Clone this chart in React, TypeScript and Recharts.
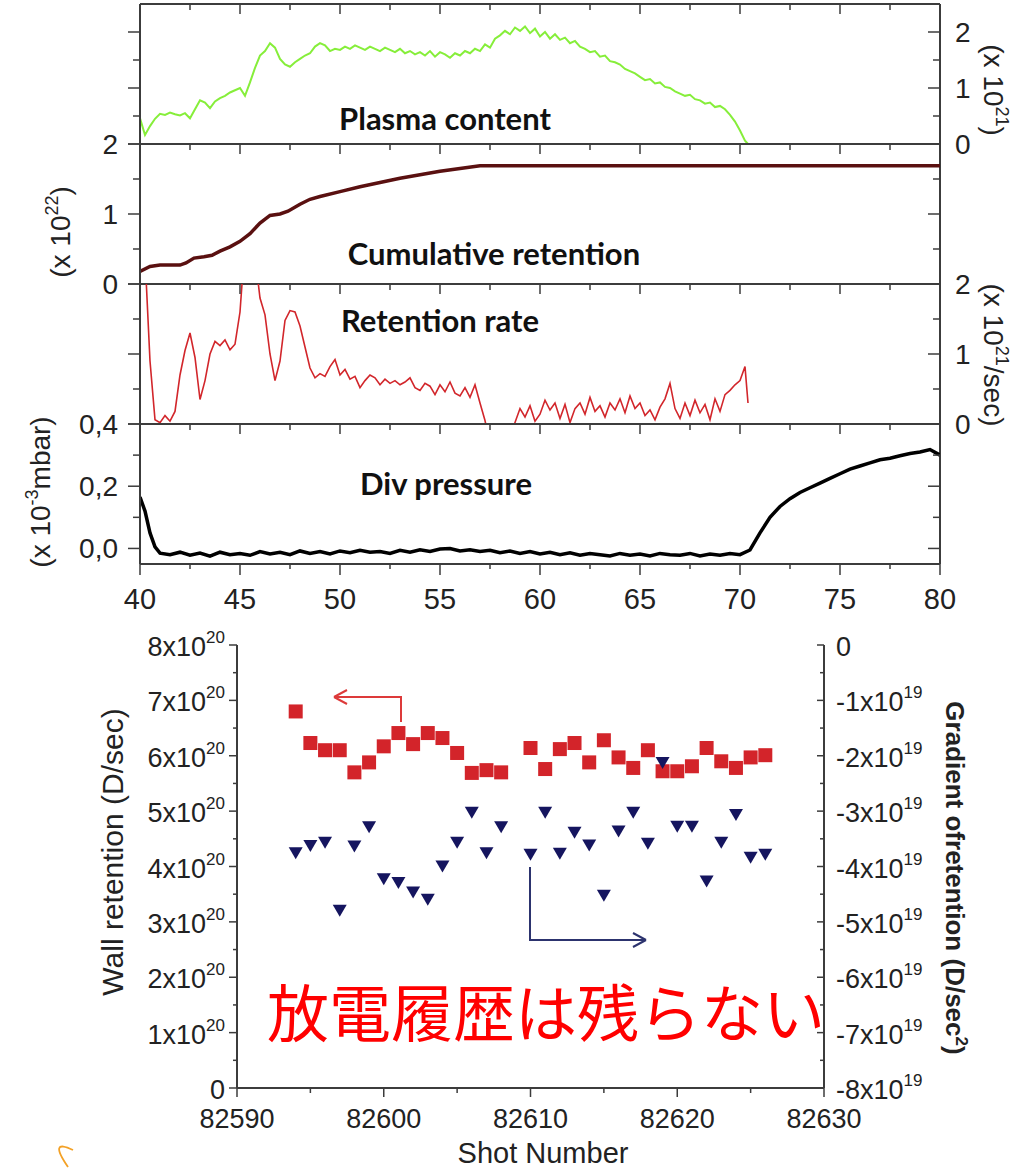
import React from 'react';
import { LineChart, Line, XAxis, YAxis, ReferenceLine, ScatterChart, Scatter } from 'recharts';

// ---- top figure: time traces (s) ----
const timeTicks = [40, 42.5, 45, 47.5, 50, 52.5, 55, 57.5, 60, 62.5, 65, 67.5, 70, 72.5, 75, 77.5, 80];

const plasmaTrace: [number, number][] = [
  [40, 0.46], [40.25, 0.16], [40.5, 0.32], [40.75, 0.45], [41, 0.54], [41.25, 0.52], [41.5, 0.56], [41.75, 0.53],
  [42, 0.51], [42.25, 0.55], [42.5, 0.46], [42.75, 0.62], [43, 0.78], [43.25, 0.74], [43.5, 0.64], [43.75, 0.76],
  [44, 0.82], [44.25, 0.86], [44.5, 0.92], [44.75, 0.96], [45, 1.0], [45.25, 0.86], [45.5, 1.1], [45.75, 1.36],
  [46, 1.58], [46.25, 1.66], [46.5, 1.8], [46.75, 1.72], [47, 1.52], [47.25, 1.42], [47.5, 1.38], [47.75, 1.46],
  [48, 1.52], [48.25, 1.58], [48.5, 1.62], [48.75, 1.74], [49, 1.8], [49.25, 1.76], [49.5, 1.66], [49.75, 1.7],
  [50, 1.68], [50.25, 1.74], [50.5, 1.7], [50.75, 1.76], [51, 1.72], [51.25, 1.68], [51.5, 1.74], [51.75, 1.7],
  [52, 1.66], [52.25, 1.72], [52.5, 1.68], [52.75, 1.64], [53, 1.7], [53.25, 1.62], [53.5, 1.66], [53.75, 1.6],
  [54, 1.64], [54.25, 1.58], [54.5, 1.66], [54.75, 1.56], [55, 1.64], [55.25, 1.6], [55.5, 1.54], [55.75, 1.62],
  [56, 1.58], [56.25, 1.66], [56.5, 1.62], [56.75, 1.7], [57, 1.66], [57.25, 1.78], [57.5, 1.72], [57.75, 1.88],
  [58, 1.94], [58.25, 2.02], [58.5, 1.96], [58.75, 2.08], [59, 2.02], [59.25, 2.1], [59.5, 1.98], [59.75, 2.06],
  [60, 1.92], [60.25, 2.0], [60.5, 1.88], [60.75, 1.96], [61, 1.86], [61.25, 1.9], [61.5, 1.8], [61.75, 1.84],
  [62, 1.74], [62.25, 1.7], [62.5, 1.64], [62.75, 1.66], [63, 1.56], [63.25, 1.58], [63.5, 1.48], [63.75, 1.46],
  [64, 1.42], [64.25, 1.34], [64.5, 1.3], [64.75, 1.26], [65, 1.2], [65.25, 1.14], [65.5, 1.16], [65.75, 1.08],
  [66, 1.1], [66.25, 1.02], [66.5, 1.0], [66.75, 0.94], [67, 0.9], [67.25, 0.86], [67.5, 0.88], [67.75, 0.8],
  [68, 0.78], [68.25, 0.72], [68.5, 0.74], [68.75, 0.66], [69, 0.68], [69.25, 0.62], [69.5, 0.52], [69.75, 0.4],
  [70, 0.24], [70.25, 0.06], [70.4, 0.0],
];

const cumulativeTrace: [number, number][] = [
  [40, 0.18], [40.5, 0.25], [41, 0.27], [42, 0.27], [42.3, 0.3], [42.7, 0.37], [43.2, 0.39], [43.6, 0.41],
  [44, 0.47], [44.5, 0.53], [45, 0.61], [45.5, 0.72], [46, 0.87], [46.5, 0.98], [47, 1.0], [47.4, 1.04],
  [48, 1.14], [48.5, 1.21], [49, 1.25], [50, 1.32], [51, 1.39], [52, 1.45], [53, 1.51], [54, 1.56],
  [55, 1.61], [56, 1.65], [57, 1.69], [80, 1.69],
];

const rateTrace: [number, number][] = [
  [40, 3.0], [40.25, 2.4], [40.5, 0.9], [40.75, 0.06], [41, 0.02], [41.25, 0.12], [41.5, 0.04], [41.75, 0.18],
  [42, 0.7], [42.25, 1.05], [42.5, 1.3], [42.75, 0.95], [43, 0.35], [43.25, 0.62], [43.5, 1.0], [43.75, 1.18],
  [44, 1.12], [44.25, 1.2], [44.5, 1.06], [44.75, 1.14], [45, 1.6], [45.25, 2.6], [45.5, 2.8], [45.75, 2.4],
  [46, 1.8], [46.25, 1.56], [46.5, 1.0], [46.75, 0.62], [47, 0.9], [47.25, 1.48], [47.5, 1.62], [47.75, 1.6],
  [48, 1.4], [48.25, 1.1], [48.5, 0.8], [48.75, 0.66], [49, 0.72], [49.25, 0.68], [49.5, 0.82], [49.75, 0.92],
  [50, 0.7], [50.25, 0.78], [50.5, 0.64], [50.75, 0.68], [51, 0.52], [51.25, 0.62], [51.5, 0.7], [51.75, 0.66],
  [52, 0.56], [52.25, 0.64], [52.5, 0.58], [52.75, 0.62], [53, 0.56], [53.25, 0.6], [53.5, 0.66], [53.75, 0.52],
  [54, 0.48], [54.25, 0.58], [54.5, 0.54], [54.75, 0.42], [55, 0.56], [55.25, 0.46], [55.5, 0.6], [55.75, 0.44],
  [56, 0.4], [56.25, 0.52], [56.5, 0.38], [56.75, 0.56], [57, 0.3], [57.25, 0.05], [57.5, -0.3], [57.75, -0.4],
  [58, -0.5], [58.25, -0.4], [58.5, -0.2], [58.75, 0.02], [59, 0.22], [59.25, 0.1], [59.5, 0.26], [59.75, 0.04],
  [60, 0.14], [60.25, 0.34], [60.5, 0.2], [60.75, 0.3], [61, 0.08], [61.25, 0.28], [61.5, 0.02], [61.75, 0.22],
  [62, 0.3], [62.25, 0.14], [62.5, 0.38], [62.75, 0.18], [63, 0.26], [63.25, 0.1], [63.5, 0.3], [63.75, 0.2],
  [64, 0.36], [64.25, 0.16], [64.5, 0.4], [64.75, 0.22], [65, 0.3], [65.25, 0.12], [65.5, 0.2], [65.75, 0.06],
  [66, 0.24], [66.25, 0.36], [66.5, 0.58], [66.75, 0.22], [67, 0.08], [67.25, 0.3], [67.5, 0.12], [67.75, 0.34],
  [68, 0.16], [68.25, 0.28], [68.5, 0.06], [68.75, 0.36], [69, 0.18], [69.25, 0.42], [69.5, 0.48], [69.75, 0.56],
  [70, 0.62], [70.25, 0.82], [70.4, 0.3],
];

const pressureTrace: [number, number][] = [
  [40, 0.165], [40.25, 0.12], [40.5, 0.05], [40.75, 0.005], [41, -0.015], [41.5, -0.02], [42, -0.012], [42.5, -0.022],
  [43, -0.015], [43.5, -0.025], [44, -0.012], [44.5, -0.02], [45, -0.016], [45.5, -0.022], [46, -0.01], [46.5, -0.018],
  [47, -0.012], [47.5, -0.02], [48, -0.008], [48.5, -0.016], [49, -0.01], [49.5, -0.018], [50, -0.008], [50.5, -0.014],
  [51, -0.006], [51.5, -0.012], [52, -0.01], [52.5, -0.016], [53, -0.006], [53.5, -0.012], [54, -0.004], [54.5, -0.01],
  [55, -0.002], [55.5, 0.0], [56, -0.008], [56.5, -0.004], [57, -0.01], [57.5, -0.006], [58, -0.014], [58.5, -0.008],
  [59, -0.016], [59.5, -0.01], [60, -0.018], [60.5, -0.012], [61, -0.02], [61.5, -0.014], [62, -0.022], [62.5, -0.016],
  [63, -0.02], [63.5, -0.024], [64, -0.016], [64.5, -0.022], [65, -0.018], [65.5, -0.024], [66, -0.016], [66.5, -0.02],
  [67, -0.022], [67.5, -0.016], [68, -0.024], [68.5, -0.018], [69, -0.022], [69.5, -0.016], [70, -0.02], [70.5, -0.005],
  [71, 0.05], [71.5, 0.1], [72, 0.135], [72.5, 0.16], [73, 0.18], [73.5, 0.195], [74, 0.21], [74.5, 0.225],
  [75, 0.24], [75.5, 0.255], [76, 0.265], [76.5, 0.275], [77, 0.285], [77.5, 0.29], [78, 0.298], [78.5, 0.305],
  [79, 0.31], [79.5, 0.318], [80, 0.3],
];

// ---- bottom figure: per-shot values ----
const shots = [
  82594, 82595, 82596, 82597, 82598, 82599, 82600, 82601, 82602, 82603, 82604, 82605, 82606, 82607, 82608,
  82610, 82611, 82612, 82613, 82614, 82615, 82616, 82617, 82618, 82619, 82620, 82621, 82622, 82623, 82624, 82625, 82626,
];
// wall retention, x10^20 D/sec
const wallRetention = [
  6.8, 6.23, 6.1, 6.1, 5.7, 5.88, 6.17, 6.41, 6.21, 6.41, 6.32, 6.05, 5.69, 5.74, 5.7,
  6.14, 5.76, 6.12, 6.23, 5.88, 6.28, 5.97, 5.78, 6.1, 5.72, 5.72, 5.81, 6.14, 5.9, 5.78, 5.97, 6.01,
];
// gradient of retention, x10^19 D/sec^2
const gradRetention = [
  -3.76, -3.63, -3.57, -4.8, -3.64, -3.29, -4.23, -4.3, -4.47, -4.6, -4.0, -3.57, -3.03, -3.76, -3.29,
  -3.79, -3.03, -3.77, -3.39, -3.62, -4.53, -3.37, -3.03, -3.59, -2.13, -3.28, -3.28, -4.27, -3.57, -3.07, -3.84, -3.79,
];
const shotTicks = [82590, 82595, 82600, 82605, 82610, 82615, 82620, 82625, 82630];
const wallTicks = [0, 0.5, 1, 1.5, 2, 2.5, 3, 3.5, 4, 4.5, 5, 5.5, 6, 6.5, 7, 7.5, 8];
const gradTicks = [-8, -7.5, -7, -6.5, -6, -5.5, -5, -4.5, -4, -3.5, -3, -2.5, -2, -1.5, -1, -0.5, 0];

const PL = 140;
const PR = 940;
const AXIS = '#3c3c3c';
const SANS = '"Liberation Sans", Arial, sans-serif';

type Label = { v: number; text: string };

type PanelProps = {
  trace: [number, number][];
  top: number;
  bottom: number;
  domain: [number, number];
  yTicks: number[];
  majorY: number[];
  leftLabels?: Label[];
  rightLabels?: Label[];
  color: string;
  width: number;
  timeLabels?: boolean;
};

function TracePanel(p: PanelProps) {
  const padTop = 20;
  const axisH = 30;
  const padBottom = p.timeLabels ? 40 : 0;
  const plotH = p.bottom - p.top;
  const H = plotH + padTop + axisH + padBottom;
  const localTop = padTop;
  const localBottom = padTop + plotH;
  const data = p.trace.map(([t, v]) => ({ t, v }));

  const XTick = (props: any) => {
    const { x, payload } = props;
    const v = payload.value as number;
    const major = v % 5 === 0;
    const len = major ? 10 : 6;
    return (
      <g>
        <line x1={x} x2={x} y1={localTop} y2={localTop + len} stroke={AXIS} strokeWidth={1.5} />
        {p.timeLabels && (
          <line x1={x} x2={x} y1={localBottom} y2={localBottom + (major ? 11 : 5)} stroke={AXIS} strokeWidth={1.5} />
        )}
        {p.timeLabels && major && (
          <text x={x} y={localBottom + 45} textAnchor="middle" fontSize={29} fontFamily={SANS} fill="#222">
            {v}
          </text>
        )}
      </g>
    );
  };

  const YTick = (props: any) => {
    const { y, payload } = props;
    const v = payload.value as number;
    const major = p.majorY.some((m) => Math.abs(m - v) < 1e-9);
    const len = major ? 12 : 7;
    const l = p.leftLabels?.find((q) => Math.abs(q.v - v) < 1e-9);
    const r = p.rightLabels?.find((q) => Math.abs(q.v - v) < 1e-9);
    return (
      <g>
        <line x1={PL} x2={PL - len} y1={y} y2={y} stroke={AXIS} strokeWidth={1.5} />
        <line x1={PR} x2={PR - len} y1={y} y2={y} stroke={AXIS} strokeWidth={1.5} />
        {l && (
          <text x={PL - 22} y={y + 10} textAnchor="end" fontSize={28} fontFamily={SANS} fill="#222">
            {l.text}
          </text>
        )}
        {r && (
          <text x={PR + 15} y={y + 10} textAnchor="start" fontSize={28} fontFamily={SANS} fill="#222">
            {r.text}
          </text>
        )}
      </g>
    );
  };

  return (
    <div style={{ position: 'absolute', left: 0, top: p.top - padTop, width: 1025, height: H }}>
      <LineChart width={1025} height={H} data={data} margin={{ top: padTop, right: 1025 - PR, bottom: padBottom, left: PL - 60 }}>
        <XAxis
          dataKey="t"
          type="number"
          domain={[40, 80]}
          ticks={timeTicks}
          interval={0}
          allowDataOverflow
          height={axisH}
          tickSize={0}
          tickMargin={0}
          tickLine={false}
          axisLine={{ stroke: AXIS, strokeWidth: 2 }}
          tick={XTick}
        />
        <YAxis
          type="number"
          domain={p.domain}
          ticks={p.yTicks}
          interval={0}
          allowDataOverflow
          width={60}
          tickSize={0}
          tickMargin={0}
          tickLine={false}
          axisLine={{ stroke: AXIS, strokeWidth: 2 }}
          tick={YTick}
        />
        <ReferenceLine y={p.domain[1]} stroke={AXIS} strokeWidth={2} />
        <ReferenceLine x={80} stroke={AXIS} strokeWidth={2} />
        <Line dataKey="v" type="linear" stroke={p.color} strokeWidth={p.width} dot={false} isAnimationActive={false} />
      </LineChart>
    </div>
  );
}

const Square = (props: any) => {
  const { cx, cy } = props;
  return <rect x={cx - 7} y={cy - 7} width={14} height={14} fill="#d3242a" />;
};

const DownTriangle = (props: any) => {
  const { cx, cy } = props;
  return <polygon points={`${cx - 7},${cy - 6} ${cx + 7},${cy - 6} ${cx},${cy + 6}`} fill="#15155f" />;
};

function ShotChart() {
  const H = 546;
  const mTop = 20;
  const mBottom = 53;
  const axisH = 30;
  const plotBottom = H - mBottom - axisH;
  const wallData = shots.map((shot, i) => ({ shot, rate: wallRetention[i] }));
  const gradData = shots.map((shot, i) => ({ shot, grad: gradRetention[i] }));

  const ShotTick = (props: any) => {
    const { x, payload } = props;
    const v = payload.value as number;
    const major = v % 10 === 0;
    return (
      <g>
        <line x1={x} x2={x} y1={plotBottom} y2={plotBottom + (major ? 9 : 5)} stroke={AXIS} strokeWidth={1.5} />
        {major && (
          <text x={x} y={plotBottom + 40} textAnchor="middle" fontSize={27} fontFamily={SANS} fill="#222">
            {v}
          </text>
        )}
      </g>
    );
  };

  const WallTick = (props: any) => {
    const { x, y, payload } = props;
    const v = payload.value as number;
    const major = Number.isInteger(v);
    return (
      <g>
        <line x1={x} x2={x - (major ? 8 : 4)} y1={y} y2={y} stroke={AXIS} strokeWidth={1.5} />
        {major && (
          <text x={x - 12} y={y + 11} textAnchor="end" fontSize={27} fontFamily={SANS} fill="#222">
            {v === 0 ? (
              '0'
            ) : (
              <>
                <tspan>{`${v}x10`}</tspan>
                <tspan dy={-13} fontSize={17}>20</tspan>
              </>
            )}
          </text>
        )}
      </g>
    );
  };

  const GradTick = (props: any) => {
    const { x, y, payload } = props;
    const v = payload.value as number;
    const major = Number.isInteger(v);
    return (
      <g>
        <line x1={x} x2={x - (major ? 7 : 4)} y1={y} y2={y} stroke={AXIS} strokeWidth={1.5} />
        {major && (
          <text x={x + 12} y={y + 11} textAnchor="start" fontSize={27} fontFamily={SANS} fill="#222">
            {v === 0 ? (
              '0'
            ) : (
              <>
                <tspan>{`${v}x10`}</tspan>
                <tspan dy={-13} fontSize={17}>19</tspan>
              </>
            )}
          </text>
        )}
      </g>
    );
  };

  return (
    <div style={{ position: 'absolute', left: 0, top: 625, width: 1025, height: H }}>
      <ScatterChart width={1025} height={H} margin={{ top: mTop, right: 141, bottom: mBottom, left: 177 }}>
        <XAxis
          dataKey="shot"
          type="number"
          domain={[82590, 82630]}
          ticks={shotTicks}
          interval={0}
          height={axisH}
          tickSize={0}
          tickMargin={0}
          tickLine={false}
          axisLine={{ stroke: AXIS, strokeWidth: 2 }}
          tick={ShotTick}
        />
        <YAxis
          yAxisId="l"
          dataKey="rate"
          type="number"
          domain={[0, 8]}
          ticks={wallTicks}
          interval={0}
          width={60}
          tickSize={0}
          tickMargin={0}
          tickLine={false}
          axisLine={{ stroke: AXIS, strokeWidth: 2 }}
          tick={WallTick}
        />
        <YAxis
          yAxisId="r"
          orientation="right"
          dataKey="grad"
          type="number"
          domain={[-8, 0]}
          ticks={gradTicks}
          interval={0}
          width={60}
          tickSize={0}
          tickMargin={0}
          tickLine={false}
          axisLine={{ stroke: AXIS, strokeWidth: 2 }}
          tick={GradTick}
        />
        <Scatter yAxisId="l" data={wallData} shape={Square} isAnimationActive={false} />
        <Scatter yAxisId="r" data={gradData} shape={DownTriangle} isAnimationActive={false} />
      </ScatterChart>
    </div>
  );
}

function RotLabel({ cx, cy, angle, size, bold, children }: any) {
  return (
    <text
      transform={`translate(${cx},${cy}) rotate(${angle})`}
      x={0}
      y={size * 0.36}
      textAnchor="middle"
      fontSize={size}
      fontWeight={bold ? 700 : 400}
      fontFamily={SANS}
      fill="#222"
    >
      {children}
    </text>
  );
}

function Overlay() {
  const title = { fontFamily: 'Lato, "Open Sans", sans-serif', fontWeight: 700, fontSize: 31, fill: '#111' };
  return (
    <svg width={1025} height={1171} style={{ position: 'absolute', left: 0, top: 0, pointerEvents: 'none' }}>
      <text x={445} y={130} textAnchor="middle" {...title}>Plasma content</text>
      <text x={494} y={265} textAnchor="middle" {...title}>Cumulative retention</text>
      <text x={440} y={332} textAnchor="middle" {...title}>Retention rate</text>
      <text x={446} y={495} textAnchor="middle" {...title}>Div pressure</text>

      <RotLabel cx={60} cy={232} angle={-90} size={28}>
        <tspan>(x 10</tspan>
        <tspan dy={-12} fontSize={18}>22</tspan>
        <tspan dy={12}>)</tspan>
      </RotLabel>
      <RotLabel cx={994} cy={90} angle={90} size={28}>
        <tspan>(x 10</tspan>
        <tspan dy={-12} fontSize={18}>21</tspan>
        <tspan dy={12}>)</tspan>
      </RotLabel>
      <RotLabel cx={994} cy={355} angle={90} size={28}>
        <tspan>(x 10</tspan>
        <tspan dy={-12} fontSize={18}>21</tspan>
        <tspan dy={12}>/sec)</tspan>
      </RotLabel>
      <RotLabel cx={40} cy={492} angle={-90} size={28}>
        <tspan>(x 10</tspan>
        <tspan dy={-12} fontSize={18}>-3</tspan>
        <tspan dy={12}>mbar)</tspan>
      </RotLabel>

      <RotLabel cx={112} cy={852} angle={-90} size={30}>Wall retention (D/sec)</RotLabel>
      <RotLabel cx={955} cy={878} angle={90} size={26} bold>
        <tspan>Gradient ofretention (D/sec</tspan>
        <tspan dy={-10} fontSize={17}>2</tspan>
        <tspan dy={10}>)</tspan>
      </RotLabel>
      <text x={543} y={1163} textAnchor="middle" fontSize={29} fontFamily={SANS} fill="#222">Shot Number</text>

      <text x={267} y={1037} fontSize={62} fontFamily='"Noto Sans CJK JP", sans-serif' fill="#ff0000">
        放電履歴は残らない
      </text>

      <path d="M401 722 V697 H334 M334 697 L347 690 M334 697 L347 704" stroke="#dd3a3a" strokeWidth={2} fill="none" />
      <path d="M530 867 V940 H646 M646 940 L633 933 M646 940 L633 947" stroke="#2c336e" strokeWidth={2} fill="none" />
      <path d="M68 1167 Q48 1138 73 1150" stroke="#f3a126" strokeWidth={1.8} fill="none" />
    </svg>
  );
}

export default function App() {
  return (
    <div style={{ position: 'absolute', left: 0, top: 0, width: 1025, height: 1171, background: '#fff', overflow: 'hidden' }}>
      <TracePanel
        trace={plasmaTrace}
        top={4}
        bottom={144}
        domain={[0, 2.5]}
        yTicks={[0, 0.5, 1, 1.5, 2]}
        majorY={[0, 1, 2]}
        rightLabels={[{ v: 0, text: '0' }, { v: 1, text: '1' }, { v: 2, text: '2' }]}
        color="#86ee3a"
        width={2}
      />
      <TracePanel
        trace={cumulativeTrace}
        top={144}
        bottom={284}
        domain={[0, 2]}
        yTicks={[0, 0.5, 1, 1.5, 2]}
        majorY={[0, 1, 2]}
        leftLabels={[{ v: 0, text: '0' }, { v: 1, text: '1' }, { v: 2, text: '2' }]}
        color="#5a1010"
        width={3.5}
      />
      <TracePanel
        trace={rateTrace}
        top={284}
        bottom={424}
        domain={[0, 2]}
        yTicks={[0, 0.5, 1, 1.5, 2]}
        majorY={[0, 1, 2]}
        rightLabels={[{ v: 0, text: '0' }, { v: 1, text: '1' }, { v: 2, text: '2' }]}
        color="#d2262b"
        width={1.6}
      />
      <TracePanel
        trace={pressureTrace}
        top={424}
        bottom={564}
        domain={[-0.05, 0.4]}
        yTicks={[0, 0.1, 0.2, 0.3, 0.4]}
        majorY={[0, 0.2, 0.4]}
        leftLabels={[{ v: 0, text: '0,0' }, { v: 0.2, text: '0,2' }, { v: 0.4, text: '0,4' }]}
        color="#000000"
        width={3.5}
        timeLabels
      />
      <ShotChart />
      <Overlay />
    </div>
  );
}
